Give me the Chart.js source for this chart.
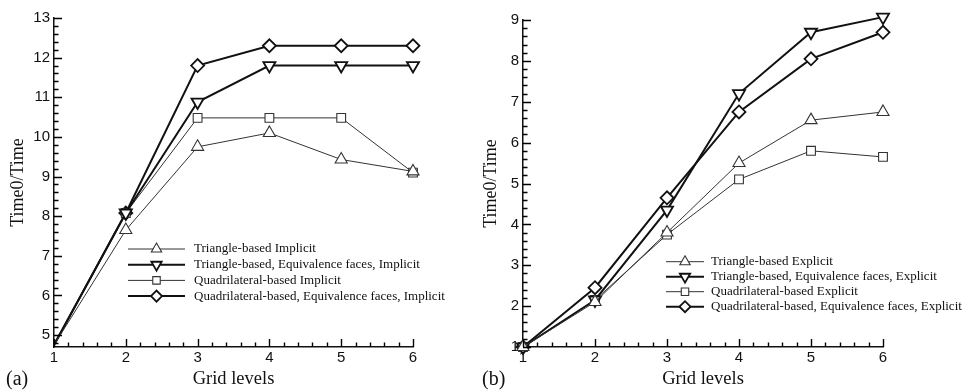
<!DOCTYPE html>
<html>
<head>
<meta charset="utf-8">
<script src="https://cdn.jsdelivr.net/npm/chart.js@4.4.0/dist/chart.umd.min.js"></script>
<style>
  html, body { margin: 0; padding: 0; background: #fff; }
  #wrap { position: relative; width: 965px; height: 390px; overflow: hidden; }
  .panel { position: absolute; top: 0; height: 390px; }
  #panelA { left: 0; width: 480px; }
  #panelB { left: 480px; width: 485px; }
  .tag { position: absolute; top: 367px; font: 20px "Liberation Serif", serif; color: #111; }
</style>
</head>
<body>
<div id="wrap">
  <div class="panel" id="panelA"><canvas id="chartA" width="480" height="390"></canvas></div>
  <div class="panel" id="panelB"><canvas id="chartB" width="485" height="390"></canvas></div>
  <div class="tag" style="left:6px">(a)</div>
  <div class="tag" style="left:482px">(b)</div>
</div>
<script>
// grid levels (x)
const gridLevels = [1, 2, 3, 4, 5, 6];

// (a) implicit
const labelsA = [
  'Triangle-based Implicit',
  'Triangle-based, Equivalence faces, Implicit',
  'Quadrilateral-based Implicit',
  'Quadrilateral-based, Equivalence faces, Implicit'
];
const triImplicit = [4.75, 7.65, 9.75, 10.1, 9.43, 9.13];
const triEqImplicit = [4.75, 8.08, 10.88, 11.8, 11.8, 11.8];
const quadImplicit = [4.75, 8.08, 10.48, 10.48, 10.48, 9.1];
const quadEqImplicit = [4.75, 8.08, 11.8, 12.3, 12.3, 12.3];
const yTicksA = [5, 6, 7, 8, 9, 10, 11, 12, 13];

// (b) explicit
const labelsB = [
  'Triangle-based Explicit',
  'Triangle-based, Equivalence faces, Explicit',
  'Quadrilateral-based Explicit',
  'Quadrilateral-based, Equivalence faces, Explicit'
];
const triExplicit = [1, 2.1, 3.8, 5.5, 6.55, 6.75];
const triEqExplicit = [1, 2.15, 4.35, 7.2, 8.7, 9.07];
const quadExplicit = [1, 2.15, 3.75, 5.1, 5.8, 5.65];
const quadEqExplicit = [1, 2.45, 4.65, 6.75, 8.05, 8.7];
const yTicksB = [1, 2, 3, 4, 5, 6, 7, 8, 9];

// marker / line styles per series (same order in both panels)
const styles = [
  { pointStyle: 'triangle', rotation: 0, radius: 7, width: 1, color: '#333' },
  { pointStyle: 'triangle', rotation: 180, radius: 7, width: 2, color: '#111' },
  { pointStyle: 'rect', rotation: 0, radius: 6.2, width: 1, color: '#333' },
  { pointStyle: 'rectRot', rotation: 0, radius: 6.5, width: 2, color: '#111' }
];

function makeDatasets(labels, series, hideFirst) {
  return series.map((vals, i) => {
    const s = styles[i];
    return {
      label: labels[i],
      data: vals.map((v, k) => ({ x: gridLevels[k], y: v })),
      borderColor: s.color,
      borderWidth: s.width,
      pointStyle: s.pointStyle,
      pointRotation: s.rotation,
      pointRadius: hideFirst ? vals.map((v, k) => k === 0 ? 0 : s.radius) : s.radius,
      pointBackgroundColor: '#fff',
      pointBorderColor: s.color,
      pointBorderWidth: s.width === 2 ? 1.8 : 1.1,
      tension: 0,
      fill: false,
      clip: false
    };
  });
}

// inward major/minor tick marks, placed with the chart scales
function drawTicks(chart) {
  const ctx = chart.ctx;
  const xs = chart.scales.x;
  const ys = chart.scales.y;
  const bottom = ys.getPixelForValue(ys.min);
  const left = xs.getPixelForValue(xs.min);
  ctx.save();
  ctx.strokeStyle = '#000';
  ctx.lineWidth = 1.4;
  ctx.beginPath();
  const nx = Math.round((xs.max - xs.min) / 0.2);
  for (let k = 0; k <= nx; k++) {
    const v = xs.min + k * 0.2;
    const len = k % 5 === 0 ? 8 : 4.5;
    const px = Math.round(xs.getPixelForValue(v)) + 0.5;
    ctx.moveTo(px, bottom);
    ctx.lineTo(px, bottom - len);
  }
  const first = Math.ceil(ys.min * 5 - 1e-6);
  const last = Math.floor(ys.max * 5 + 1e-6);
  for (let k = first; k <= last; k++) {
    const v = k / 5;
    const len = k % 5 === 0 ? 8 : 4.5;
    const py = Math.round(ys.getPixelForValue(v)) + 0.5;
    ctx.moveTo(left, py);
    ctx.lineTo(left + len, py);
  }
  ctx.stroke();
  ctx.restore();
}

function drawMarker(ctx, s, r, cx, cy) {
  const opts = { pointStyle: s.pointStyle, radius: r, rotation: s.rotation, borderWidth: s.width === 2 ? 1.8 : 1.1 };
  ctx.fillStyle = '#fff';
  ctx.strokeStyle = s.color;
  ctx.lineWidth = opts.borderWidth;
  Chart.helpers.drawPoint(ctx, opts, cx, cy);
}

// tick marks + legend inside the plot area
const extras = {
  id: 'extras',
  afterDraw(chart, args, o) {
    const { ctx } = chart;
    drawTicks(chart);
    ctx.save();
    chart.data.datasets.forEach((ds, i) => {
      const s = styles[i];
      const yy = o.top + i * o.gap;
      ctx.strokeStyle = s.color;
      ctx.lineWidth = s.width;
      ctx.beginPath();
      ctx.moveTo(o.x1, yy);
      ctx.lineTo(o.x2, yy);
      ctx.stroke();
      drawMarker(ctx, s, s.radius * 0.85, (o.x1 + o.x2) / 2, yy);
      ctx.fillStyle = '#111';
      ctx.font = '13px "Liberation Serif", serif';
      ctx.textBaseline = 'middle';
      ctx.textAlign = 'left';
      ctx.fillText(ds.label, o.textX, yy);
    });
    ctx.restore();
  }
};

function makeChart(id, datasets, yMin, yMax, yTicks, geo) {
  return new Chart(document.getElementById(id), {
    type: 'line',
    data: { datasets },
    plugins: [extras],
    options: {
      responsive: false,
      animation: false,
      events: [],
      layout: { padding: { top: geo.top, right: geo.right, left: 0, bottom: 0 } },
      plugins: {
        legend: { display: false },
        tooltip: { enabled: false },
        extras: geo.legend
      },
      scales: {
        x: {
          type: 'linear',
          min: 1,
          max: 6,
          afterBuildTicks: sc => { sc.ticks = gridLevels.map(v => ({ value: v })); },
          afterFit: sc => { sc.height = 43; },
          ticks: { font: { family: 'Liberation Sans', size: 15 }, color: '#111', padding: 2 },
          grid: { display: false, drawTicks: false },
          border: { display: true, color: '#111', width: 1.5 },
          title: {
            display: true, text: 'Grid levels', color: '#111',
            font: { family: 'Liberation Serif', size: 18.5 }, padding: { top: 0, bottom: 0 }
          }
        },
        y: {
          min: yMin,
          max: yMax,
          afterBuildTicks: sc => { sc.ticks = yTicks.map(v => ({ value: v })); },
          afterFit: sc => { sc.width = geo.yWidth; },
          ticks: { font: { family: 'Liberation Sans', size: 15 }, color: '#111', padding: 4 },
          grid: { display: false, drawTicks: false },
          border: { display: true, color: '#111', width: 1.5 },
          title: {
            display: true, text: 'Time0/Time', color: '#111',
            font: { family: 'Liberation Serif', size: 18 }, padding: { top: geo.titlePad, bottom: 0 }
          }
        }
      }
    }
  });
}

makeChart('chartA',
  makeDatasets(labelsA, [triImplicit, triEqImplicit, quadImplicit, quadEqImplicit], true),
  4.7, 13, yTicksA,
  { top: 18, right: 67, yWidth: 54, titlePad: 7,
    legend: { x1: 128, x2: 185, textX: 194, top: 249, gap: 15.7 } });

makeChart('chartB',
  makeDatasets(labelsB, [triExplicit, triEqExplicit, quadExplicit, quadEqExplicit], false),
  1, 9, yTicksB,
  { top: 20, right: 82, yWidth: 43, titlePad: 0,
    legend: { x1: 186, x2: 224, textX: 231, top: 261.7, gap: 15 } });
</script>
</body>
</html>
